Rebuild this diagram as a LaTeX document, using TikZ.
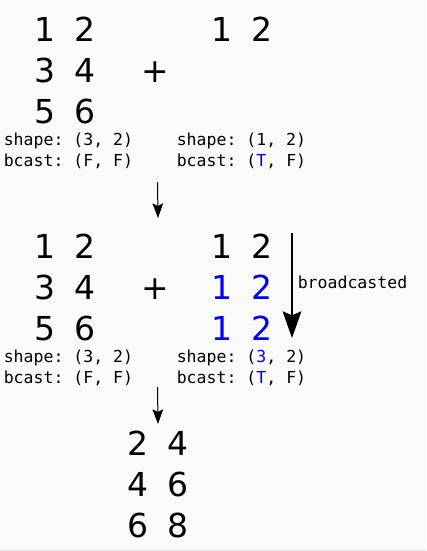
\documentclass[tikz,border=0pt]{standalone}
\usepackage{fontspec}
\setmainfont{DejaVu Sans}
\setmonofont{DejaVu Sans Mono}
\usetikzlibrary{arrows.meta}
\definecolor{bgpaper}{HTML}{FAFAFA}
\definecolor{edgeline}{HTML}{E2E2E2}
\newcommand{\numfont}{\fontsize{24.75}{30}\selectfont}
\newcommand{\codefont}{\ttfamily\fontsize{12.4}{15}\selectfont}

\begin{document}
\begin{tikzpicture}[x=0.75pt,y=-0.75pt,
  num/.style={anchor=base,inner sep=0pt,font=\numfont},
  info/.style={anchor=base west,inner sep=0pt,font=\codefont},
  flow/.style={line width=0.75pt,-{Stealth[length=11pt,width=8pt,inset=2pt]}},
  bcastarrow/.style={line width=1.5pt,-{Stealth[length=20pt,width=14pt,inset=3pt]}}]
% Background and bottom edge
\fill[bgpaper] (0,0) rectangle (426,551);
\useasboundingbox (0,0) rectangle (426,551);
\draw[edgeline,line width=0.75pt] (0,550.5) -- (426,550.5);

% Step 1: left operand (3, 2)
\node[num] (a11) at (45,41) {1};
\node[num] (a12) at (85,41) {2};
\node[num] (a21) at (45,82) {3};
\node[num] (a22) at (85,82) {4};
\node[num] (a31) at (45,123) {5};
\node[num] (a32) at (85,123) {6};
\node[font=\numfont,inner sep=0pt] (plus1) at (155,72) {+};

% Step 1: right operand (1, 2)
\node[num] (b11) at (222,41) {1};
\node[num] (b12) at (262,41) {2};

% Step 1: shape info
\node[info] (ashape) at (3.5,145) {shape: (3, 2)};
\node[info] (abcast) at (3.5,166) {bcast: (F, F)};
\node[info] (bshape) at (176.5,145) {shape: (1, 2)};
\node[info] (bbcast) at (176.5,166) {bcast: ({\color{blue}T}, F)};

% Step 2: left operand unchanged
\node[num] (c11) at (45,258) {1};
\node[num] (c12) at (85,258) {2};
\node[num] (c21) at (45,299) {3};
\node[num] (c22) at (85,299) {4};
\node[num] (c31) at (45,340) {5};
\node[num] (c32) at (85,340) {6};
\node[font=\numfont,inner sep=0pt] (plus2) at (155,289) {+};

% Step 2: right operand broadcast to (3, 2)
\node[num] (d11) at (222,258) {1};
\node[num] (d12) at (262,258) {2};
\node[num,blue] (d21) at (222,299) {1};
\node[num,blue] (d22) at (262,299) {2};
\node[num,blue] (d31) at (222,340) {1};
\node[num,blue] (d32) at (262,340) {2};

% Step 2: shape info
\node[info] (cshape) at (3.5,362) {shape: (3, 2)};
\node[info] (cbcast) at (3.5,383) {bcast: (F, F)};
\node[info] (dshape) at (176.5,362) {shape: ({\color{blue}3}, 2)};
\node[info] (dbcast) at (176.5,383) {bcast: ({\color{blue}T}, F)};

% Result
\node[num] (r11) at (138,455) {2};
\node[num] (r12) at (178,455) {4};
\node[num] (r21) at (138,496) {4};
\node[num] (r22) at (178,496) {6};
\node[num] (r31) at (138,537) {6};
\node[num] (r32) at (178,537) {8};

% Arrows between steps
\coordinate (s1top) at (157.5,182);
\coordinate (s1bot) at (158,218);
\coordinate (s2top) at (157.5,387);
\coordinate (s2bot) at (158,424);
\draw[flow] (s1top) -- (s1bot);
\draw[flow] (s2top) -- (s2bot);

% Broadcast direction
\coordinate (btop) at (292,233);
\coordinate (bbot) at (292,338);
\draw[bcastarrow] (btop) -- (bbot);
\node[info] (blabel) at (297.5,288) {broadcasted};

\end{tikzpicture}
\end{document}
